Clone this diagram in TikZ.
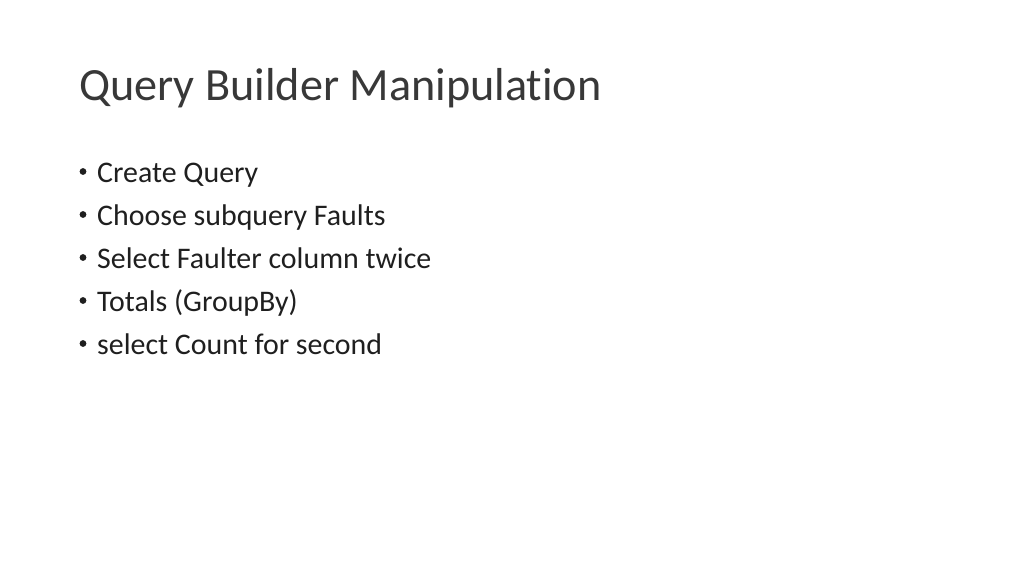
\documentclass[tikz,border=0pt]{standalone}
\usepackage{fontspec}
\setmainfont[Ligatures=NoCommon]{Carlito}
\begin{document}
\begin{tikzpicture}[x=1pt,y=1pt,
  titletext/.style={anchor=base west,inner sep=0pt,font=\fontsize{46.2}{56}\selectfont,text=black!78},
  bullettext/.style={anchor=base west,inner sep=0pt,font=\fontsize{29.9}{36}\selectfont,text=black!88},
  bulletmark/.style={circle,fill=black!88,inner sep=0pt,minimum size=6.8pt}]
\useasboundingbox[fill=white] (0,0) rectangle (1024,-576);
\node[titletext] (title) at (79,-100) {Query Builder Manipulation};
\foreach \t [count=\i] in {Create Query,Choose subquery Faults,Select Faulter column twice,Totals (GroupBy),select Count for second}{
  \node[bulletmark] (b\i) at (83,{-171.5-43*(\i-1)}) {};
  \node[bullettext] (t\i) at (97,{-182-43*(\i-1)}) {\t};
}
\end{tikzpicture}
\end{document}
